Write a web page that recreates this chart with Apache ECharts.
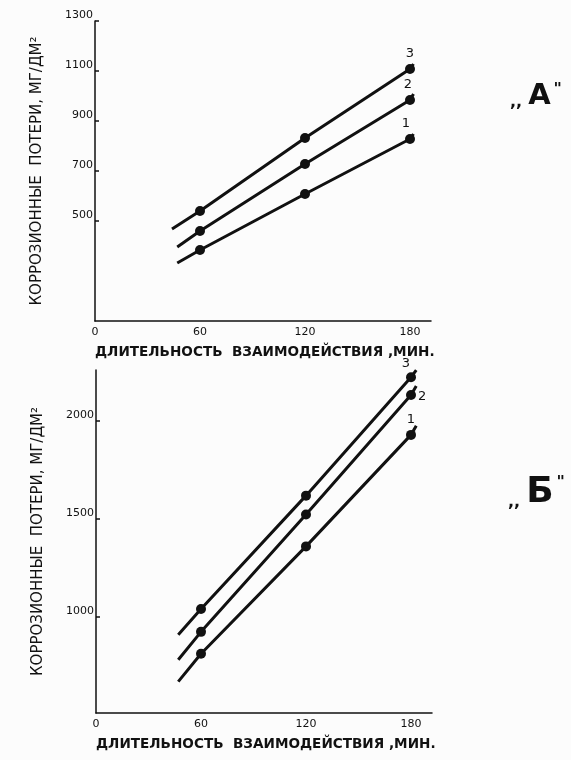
<!DOCTYPE html>
<html><head><meta charset="utf-8">
<script src="https://cdn.jsdelivr.net/npm/echarts@6/dist/echarts.min.js"></script>
<style>html,body{margin:0;padding:0;background:#fcfcfc}#c{width:571px;height:760px}</style>
</head><body><div id="c"></div>
<script>
// ---- data ----
const xTicks = [0, 60, 120, 180];
const topYTicks = [500, 700, 900, 1100, 1300];
const botYTicks = [1000, 1500, 2000];
const timeMeasured = [60, 120, 180];
const curveNames = ['1', '2', '3'];
// Chart "А"
const topCurve1 = [384, 608, 828];
const topCurve2 = [460, 728, 984];
const topCurve3 = [540, 832, 1108];
const topStartX = [47, 47, 44];
const topStartY = [332, 396, 468];
const topEndX = [182, 182, 182];
const topEndY = [848, 1008, 1128];
// Chart "Б"
const botCurve1 = [812, 1360, 1929];
const botCurve2 = [924, 1523, 2132];
const botCurve3 = [1041, 1619, 2223];
const botStartX = [47, 47, 47];
const botStartY = [670, 782, 909];
const botEndX = [183, 183, 183];
const botEndY = [1975, 2178, 2259];

const yTitle = 'КОРРОЗИОННЫЕ  ПОТЕРИ, МГ/ДМ²';
const xTitle = 'ДЛИТЕЛЬНОСТЬ  ВЗАИМОДЕЙСТВИЯ ,МИН.';

const chart = echarts.init(document.getElementById('c'));
const axisLine = {lineStyle: {color: '#111', width: 1.5}};
function xAxisFor(gi) {
  return {
    type: 'value', gridIndex: gi, min: 0, max: 192,
    axisLine: axisLine,
    axisTick: {show: false},
    splitLine: {show: false},
    axisLabel: {customValues: xTicks, color: '#111', fontSize: 11, fontFamily: 'DejaVu Sans', margin: 6},
    name: xTitle, nameLocation: 'middle', nameGap: 24,
    nameTextStyle: {fontSize: 13.6, fontWeight: 'bold', fontFamily: 'DejaVu Sans', color: '#111', align: 'left', padding: [0, 0, 0, -168]}
  };
}
function yAxisFor(gi, min, max, ticks, gap) {
  return {
    type: 'value', gridIndex: gi, min: min, max: max,
    axisLine: axisLine,
    axisTick: {show: true, inside: true, length: 4, customValues: ticks, lineStyle: {color: '#111', width: 1.5}},
    splitLine: {show: false},
    axisLabel: {customValues: ticks, color: '#111', fontSize: 11, fontFamily: 'DejaVu Sans', margin: 2, verticalAlign: 'bottom',
      formatter: v => String(v)},
    name: yTitle, nameLocation: 'middle', nameRotate: 90, nameGap: gap,
    nameTextStyle: {fontSize: 15, fontFamily: 'DejaVu Sans', color: '#111'}
  };
}
function curveSeries(gi, idx, vals, sx, sy, ex, ey, labelPos) {
  const data = [{value: [sx, sy], symbol: 'none'}];
  timeMeasured.forEach((t, i) => {
    const item = {value: [t, vals[i]]};
    if (i === timeMeasured.length - 1) {
      item.label = {show: true, formatter: curveNames[idx], position: labelPos[0], distance: labelPos[1],
        offset: labelPos[2], color: '#111', fontSize: 13, fontFamily: 'DejaVu Sans'};
    }
    data.push(item);
  });
  data.push({value: [ex, ey], symbol: 'none'});
  return {
    type: 'line', xAxisIndex: gi, yAxisIndex: gi, data: data,
    symbol: 'circle', symbolSize: 10, showAllSymbol: true,
    lineStyle: {color: '#111', width: 3}, itemStyle: {color: '#111'},
    clip: false, silent: true, animation: false
  };
}
const topCurves = [topCurve1, topCurve2, topCurve3];
const botCurves = [botCurve1, botCurve2, botCurve3];
const topLabelPos = [['top', 4, [-4, 0]], ['top', 4, [-2, 0]], ['top', 4, [0, 0]]];
const botLabelPos = [['top', 4, [0, 0]], ['right', 2, [0, 2]], ['top', 2, [-5, 0]]];
const series = [];
for (let i = 0; i < 3; i++) {
  series.push(curveSeries(0, i, topCurves[i], topStartX[i], topStartY[i], topEndX[i], topEndY[i], topLabelPos[i]));
  series.push(curveSeries(1, i, botCurves[i], botStartX[i], botStartY[i], botEndX[i], botEndY[i], botLabelPos[i]));
}
chart.setOption({
  backgroundColor: '#fcfcfc',
  animation: false,
  grid: [
    {left: 95, top: 21, width: 336, height: 300},
    {left: 96, top: 370, width: 336, height: 343}
  ],
  xAxis: [xAxisFor(0), xAxisFor(1)],
  yAxis: [yAxisFor(0, 100, 1300, topYTicks, 50), yAxisFor(1, 510, 2260, botYTicks, 50)],
  series: series,
  graphic: [
    {type: 'text', left: 510, top: 82, style: {
      text: '{q1|,,}{l|А}{q2|"}', rich: {
        q1: {fontSize: 16, fontWeight: 'bold', fontFamily: 'DejaVu Sans', fill: '#111', verticalAlign: 'bottom'},
        l: {fontSize: 29, fontWeight: 'bold', fontFamily: 'DejaVu Sans', fill: '#111', padding: [0, 3, 0, 6]},
        q2: {fontSize: 16, fontWeight: 'bold', fontFamily: 'DejaVu Sans', fill: '#111', verticalAlign: 'top'}
      }}},
    {type: 'text', left: 508, top: 475, style: {
      text: '{q1|,,}{l|Б}{q2|"}', rich: {
        q1: {fontSize: 16, fontWeight: 'bold', fontFamily: 'DejaVu Sans', fill: '#111', verticalAlign: 'bottom'},
        l: {fontSize: 36, fontWeight: 'bold', fontFamily: 'DejaVu Sans', fill: '#111', padding: [0, 3, 0, 6]},
        q2: {fontSize: 16, fontWeight: 'bold', fontFamily: 'DejaVu Sans', fill: '#111', verticalAlign: 'top'}
      }}}
  ]
});
</script></body></html>
